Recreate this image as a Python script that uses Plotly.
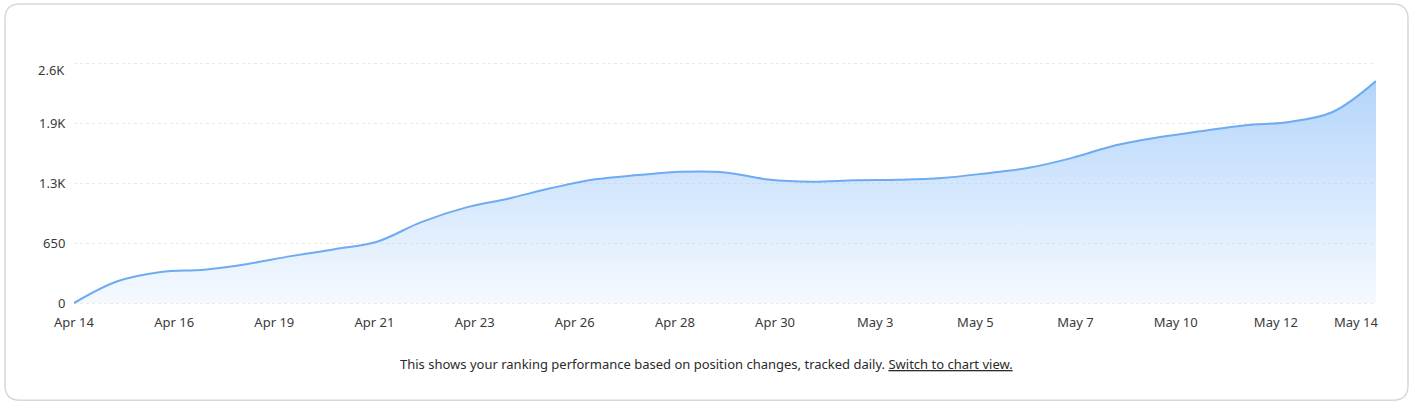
import numpy as np
import plotly.graph_objects as go

days = list(range(31))
clicks = [0, 236, 338, 363, 425, 510, 585, 670, 880, 1035, 1135, 1250, 1345, 1392, 1428, 1421,
          1343, 1319, 1335, 1341, 1360, 1410, 1471, 1579, 1717, 1804, 1871, 1934, 1970, 2078, 2414]

x_labels = ["Apr 14", "Apr 16", "Apr 19", "Apr 21", "Apr 23", "Apr 26", "Apr 28", "Apr 30",
            "May 3", "May 5", "May 7", "May 10", "May 12", "May 14"]
y_ticks = [0, 650, 1300, 1950, 2600]
y_labels = ["0", "650", "1.3K", "1.9K", ""]
y_top_label = "2.6K"

note = "This shows your ranking performance based on position changes, tracked daily. <u>Switch to chart view.</u>"

W, H = 1412, 405
L, R, T, B = 74, 1376, 62, 305.5  # two pixels of slack, plotly drops gridlines closer to the edge
FONT = "Noto Sans"
TEXT = "#3a3a3a"
PAD = 2 * 650 / 60


# pixel position in the window -> paper coords
def px(v):
    return (v - L) / (R - L)


def py(v):
    return (B - v) / (B - T)


x_ticks = np.linspace(0, 30, len(x_labels))

fig = go.Figure()
fig.add_trace(go.Scatter(
    x=days, y=clicks, mode="lines",
    line=dict(color="#6fabf0", width=2, shape="spline", smoothing=1),
    fill="tozeroy",
    fillgradient=dict(type="vertical", start=0, stop=2414,
                      colorscale=[[0, "rgba(180,213,252,0.14)"], [1, "rgba(172,209,251,0.92)"]]),
    cliponaxis=False, hoverinfo="skip", showlegend=False,
))

# card border
x0, x1, y0, y1, r = px(5), px(1408), py(4), py(401), 15
rx, ry = r / (R - L), r / (B - T)
card = (f"M {x0 + rx} {y0} L {x1 - rx} {y0} Q {x1} {y0} {x1} {y0 - ry} "
        f"L {x1} {y1 + ry} Q {x1} {y1} {x1 - rx} {y1} "
        f"L {x0 + rx} {y1} Q {x0} {y1} {x0} {y1 + ry} "
        f"L {x0} {y0 - ry} Q {x0} {y0} {x0 + rx} {y0} Z")
fig.add_shape(type="path", path=card, xref="paper", yref="paper", layer="below",
              line=dict(color="#d8d8d8", width=1.5), fillcolor="white")

# last label sits inside the plot edge, so it can't be a normal tick label
fig.add_annotation(x=x_ticks[-1], y=0, xref="x", yref="y", text=x_labels[-1], showarrow=False,
                   xanchor="right", yanchor="top", xshift=5, yshift=-8,
                   font=dict(family=FONT, size=13, color=TEXT))
# same for the top y label, it hangs below its gridline
fig.add_annotation(x=0, y=y_ticks[-1], xref="x", yref="y", text=y_top_label, showarrow=False,
                   xanchor="right", yanchor="middle", xshift=-7, yshift=-6,
                   font=dict(family=FONT, size=13, color=TEXT))
fig.add_annotation(x=px(706.5), y=py(365), xref="paper", yref="paper", text=note, showarrow=False,
                   xanchor="center", yanchor="middle",
                   font=dict(family=FONT, size=13, color="#2b2b2b"))

fig.update_xaxes(range=[0, 30], tickvals=x_ticks, ticktext=x_labels[:-1] + [""],
                 tickangle=0, showgrid=False, zeroline=False, showline=False,
                 ticks="outside", ticklen=5, tickcolor="rgba(0,0,0,0)",
                 tickfont=dict(family=FONT, size=13, color=TEXT))
fig.update_yaxes(range=[-PAD, 2600 + PAD], tickvals=y_ticks, ticktext=y_labels,
                 showgrid=True, gridcolor="#e8e8e8", griddash="dot", gridwidth=1,
                 zeroline=False, showline=False, ticks="outside", ticklen=5,
                 tickcolor="rgba(0,0,0,0)",
                 tickfont=dict(family=FONT, size=13, color=TEXT))
fig.update_layout(width=W, height=H, autosize=False,
                  margin=dict(l=L, r=W - R, t=T, b=H - B, pad=0),
                  paper_bgcolor="white", plot_bgcolor="rgba(0,0,0,0)")

fig.write_html("out.html", config=dict(displayModeBar=False),
               post_script="document.body.style.margin='0';")
